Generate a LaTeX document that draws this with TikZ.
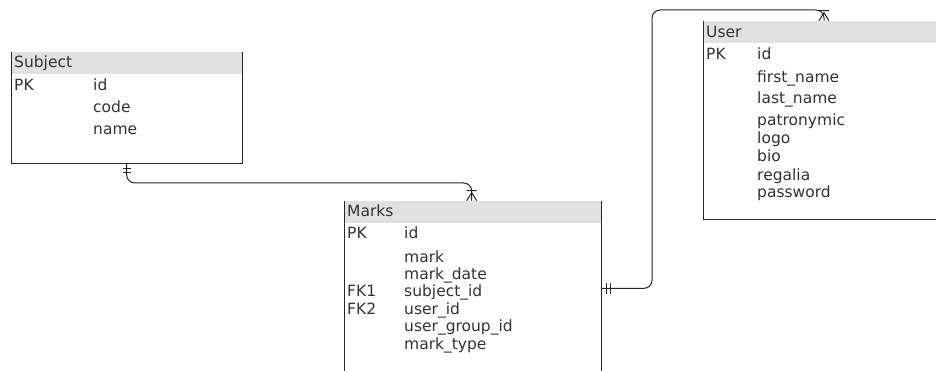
\documentclass[tikz,border=0pt]{standalone}
\usepackage{fontspec}
\newfontfamily\erfont{DejaVu Sans}
\usetikzlibrary{calc}

\definecolor{headfill}{RGB}{225,225,225}
\definecolor{inkgray}{RGB}{38,38,38}
\definecolor{txtgray}{RGB}{51,51,51}

\tikzset{
  tabhead/.style={fill=headfill, anchor=north west, inner sep=0pt, outer sep=0pt, minimum height=22pt},
  tabbody/.style={anchor=north west, inner sep=0pt, outer sep=0pt},
  tabline/.style={draw=inkgray, line width=1pt},
  field/.style={anchor=base west, inner sep=0pt, text=txtgray, font=\erfont\fontsize{15.5}{18}\selectfont},
  conn/.style={draw=inkgray, line width=1pt, rounded corners=8pt},
  mandone/.pic={\draw[draw=inkgray, line width=1pt] (5,-#1) -- (5,#1) (9.5,-#1) -- (9.5,#1);},
  onemany/.pic={\draw[draw=inkgray, line width=1pt] (0,-5) -- (8,0) -- (0,5) (10,-5) -- (10,5);}
}

\begin{document}
\begin{tikzpicture}[x=1pt, y=-1pt]
\useasboundingbox (0,0) rectangle (936,371);

% Subject
\node[tabhead, minimum width=231pt] (subjhead) at (11,52) {};
\node[tabbody, minimum width=231pt, minimum height=89.5pt] (subjbody) at (subjhead.south west) {};
\draw[tabline] (subjhead.north west) |- (subjbody.south east) -- (subjhead.north east);
\node[field] (subjtitle) at (14,68) {Subject};
\node[field] (subjpk)    at (14,90.5) {PK};
\node[field] (subjid)    at (93,90.5) {id};
\node[field] (subjcode)  at (93,113) {code};
\node[field] (subjname)  at (93,134.5) {name};

% Marks
\node[tabhead, minimum width=256.3pt] (markshead) at (344.7,200.7) {};
\node[tabbody, minimum width=256.3pt, minimum height=170pt] (marksbody) at (markshead.south west) {};
\draw[tabline] (markshead.north west) |- (marksbody.south east) -- (markshead.north east);
\node[field] (markstitle) at (347,216.7) {Marks};
\node[field] (markspk)    at (347,239) {PK};
\node[field] (marksid)    at (404,239) {id};
\node[field] (marksmark)  at (404,262.3) {mark};
\node[field] (marksdate)  at (404,279) {mark\_date};
\node[field] (marksfka)   at (347,296.3) {FK1};
\node[field] (markssubj)  at (404,296.3) {subject\_id};
\node[field] (marksfkb)   at (347,314.3) {FK2};
\node[field] (marksuser)  at (404,314.3) {user\_id};
\node[field] (marksgroup) at (404,331.7) {user\_group\_id};
\node[field] (markstype)  at (404,349.3) {mark\_type};

% User
\node[tabhead, minimum width=250pt] (userhead) at (703.3,20.7) {};
\node[tabbody, minimum width=250pt, minimum height=176.6pt] (userbody) at (userhead.south west) {};
\draw[tabline] (userhead.north west) |- (userbody.south east) -- (userhead.north east);
\node[field] (usertitle) at (706,37.3) {User};
\node[field] (userpk)    at (706,60) {PK};
\node[field] (userid)    at (757,60) {id};
\node[field] (userfirst) at (757,82.3) {first\_name};
\node[field] (userlast)  at (757,104) {last\_name};
\node[field] (userpatr)  at (757,125.7) {patronymic};
\node[field] (userlogo)  at (757,143.3) {logo};
\node[field] (userbio)   at (757,161.7) {bio};
\node[field] (userreg)   at (757,181) {regalia};
\node[field] (userpass)  at (757,197.7) {password};

% relations
\coordinate (sm1) at ([xshift=115.7pt]subjbody.south west);
\coordinate (sm2) at ([xshift=127pt]markshead.north west);
\coordinate (mu1) at ([yshift=-87.6pt]markshead.north east);
\coordinate (mu2) at ([xshift=120.7pt]userhead.north west);
\draw[conn] (sm1) -- ++(0,19.5) -| (sm2);
\draw[conn] (mu1) -| ($(userhead.north west)+(-51.3,-10.7)$) -| (mu2);
\pic[rotate=-90] at (sm1) {mandone=4};
\pic at (mu1) {mandone=5.5};
\pic[rotate=90] at (sm2) {onemany};
\pic[rotate=90] at (mu2) {onemany};
\end{tikzpicture}
\end{document}
